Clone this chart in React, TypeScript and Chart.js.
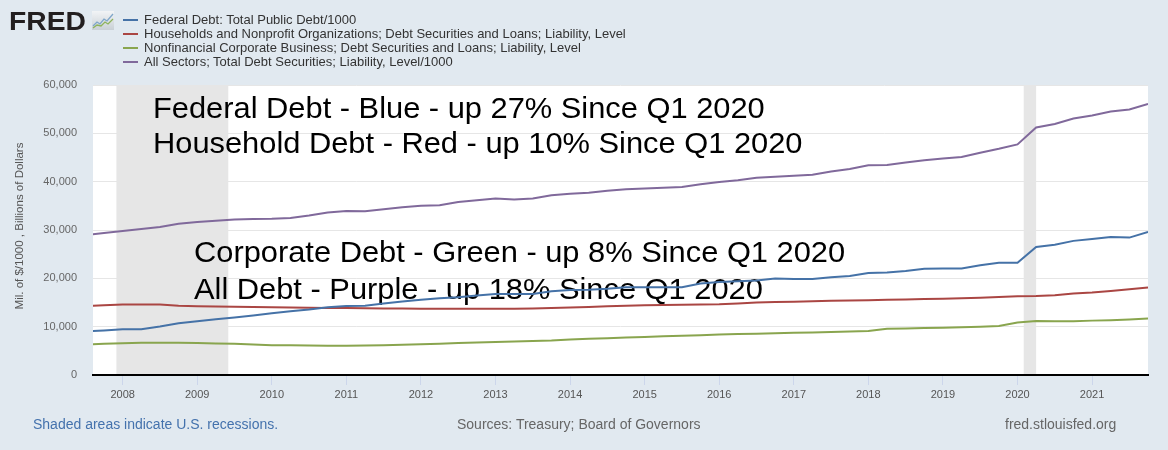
import React, { useEffect, useRef } from 'react';
import { Chart, registerables } from 'chart.js';

Chart.register(...registerables);

// ---------- data ----------
const QUARTERS = [
  '2007-07-01', '2007-10-01',
  '2008-01-01', '2008-04-01', '2008-07-01', '2008-10-01',
  '2009-01-01', '2009-04-01', '2009-07-01', '2009-10-01',
  '2010-01-01', '2010-04-01', '2010-07-01', '2010-10-01',
  '2011-01-01', '2011-04-01', '2011-07-01', '2011-10-01',
  '2012-01-01', '2012-04-01', '2012-07-01', '2012-10-01',
  '2013-01-01', '2013-04-01', '2013-07-01', '2013-10-01',
  '2014-01-01', '2014-04-01', '2014-07-01', '2014-10-01',
  '2015-01-01', '2015-04-01', '2015-07-01', '2015-10-01',
  '2016-01-01', '2016-04-01', '2016-07-01', '2016-10-01',
  '2017-01-01', '2017-04-01', '2017-07-01', '2017-10-01',
  '2018-01-01', '2018-04-01', '2018-07-01', '2018-10-01',
  '2019-01-01', '2019-04-01', '2019-07-01', '2019-10-01',
  '2020-01-01', '2020-04-01', '2020-07-01', '2020-10-01',
  '2021-01-01', '2021-04-01', '2021-07-01', '2021-10-01',
];

const FEDERAL_DEBT = [
  9010, 9230,
  9440, 9490, 10020, 10700,
  11130, 11550, 11910, 12310,
  12770, 13200, 13560, 14030,
  14270, 14340, 14790, 15220,
  15580, 15860, 16070, 16430,
  16770, 16740, 16740, 17350,
  17600, 17630, 17820, 18140,
  18150, 18150, 18150, 18920,
  19260, 19380, 19570, 19980,
  19850, 19840, 20240, 20490,
  21090, 21200, 21520, 21970,
  22030, 22020, 22720, 23200,
  23220, 26480, 26950, 27750,
  28130, 28530, 28430, 29620,
];

const HOUSEHOLD_DEBT = [
  14250, 14450,
  14600, 14580, 14600, 14350,
  14220, 14150, 14100, 14050,
  14000, 13950, 13900, 13880,
  13850, 13800, 13780, 13760,
  13720, 13700, 13690, 13720,
  13700, 13720, 13760, 13850,
  13950, 14050, 14200, 14350,
  14420, 14480, 14540, 14600,
  14650, 14800, 14980, 15080,
  15150, 15270, 15350, 15420,
  15480, 15550, 15620, 15700,
  15800, 15900, 16000, 16150,
  16300, 16320, 16500, 16850,
  17050, 17400, 17750, 18100,
];

const CORPORATE_DEBT = [
  6300, 6450,
  6550, 6650, 6680, 6660,
  6620, 6540, 6450, 6300,
  6180, 6150, 6100, 6070,
  6050, 6100, 6180, 6280,
  6380, 6480, 6600, 6720,
  6850, 6950, 7050, 7150,
  7350, 7480, 7620, 7760,
  7880, 8000, 8120, 8240,
  8380, 8480, 8560, 8640,
  8720, 8800, 8880, 8980,
  9080, 9550, 9620, 9700,
  9780, 9880, 9980, 10150,
  10850, 11150, 11100, 11120,
  11250, 11350, 11500, 11700,
];

const ALL_SECTORS_DEBT = [
  28950, 29400,
  29800, 30200, 30640, 31300,
  31650, 31900, 32150, 32300,
  32350, 32500, 33000, 33600,
  33950, 33900, 34300, 34700,
  35000, 35100, 35800, 36150,
  36500, 36300, 36500, 37200,
  37500, 37700, 38100, 38450,
  38600, 38750, 38900, 39450,
  39950, 40300, 40800, 41000,
  41200, 41450, 42100, 42600,
  43400, 43450, 43950, 44450,
  44800, 45100, 46000, 46800,
  47700, 51200, 51950, 53050,
  53700, 54500, 54950, 56100,
];

const SERIES_LABELS = [
  'Federal Debt: Total Public Debt/1000',
  'Households and Nonprofit Organizations; Debt Securities and Loans; Liability, Level',
  'Nonfinancial Corporate Business; Debt Securities and Loans; Liability, Level',
  'All Sectors; Total Debt Securities; Liability, Level/1000',
];
const SERIES_COLORS = ['#4572a7', '#aa4643', '#89a54e', '#80699b'];

const YEAR_TICKS = [2008, 2009, 2010, 2011, 2012, 2013, 2014, 2015, 2016, 2017, 2018, 2019, 2020, 2021];
const X_START_DATE = '2007-08-08';
const X_END_DATE = '2021-10-01';
const Y_MIN = 0;
const Y_MAX = 60000;
const Y_STEP = 10000;

const RECESSIONS = [
  ['2007-12-01', '2009-06-01'],
  ['2020-02-01', '2020-04-01'],
];

const NOTES = [
  'Federal Debt - Blue - up 27% Since Q1 2020',
  'Household Debt - Red - up 10% Since Q1 2020',
  'Corporate Debt - Green - up 8% Since Q1 2020',
  'All Debt - Purple - up 18% Since Q1 2020',
];

const Y_TITLE = 'Mil. of $/1000 , Billions of Dollars';

// ---------- helpers ----------
const FONT = '"Liberation Sans", Arial, Helvetica, sans-serif';

function toYear(d: string): number {
  const [y, m, dd] = d.split('-').map(Number);
  return y + (m - 1) / 12 + (dd - 1) / 365;
}

const NOTE_LAYOUT = [
  { x: 153, y: 118 },
  { x: 153, y: 153 },
  { x: 194, y: 262 },
  { x: 194, y: 299 },
];

const fredPlugin = {
  id: 'fredDecor',
  beforeDraw(chart: any) {
    const { ctx, chartArea } = chart;
    const { left, top, right, bottom } = chartArea;
    ctx.save();
    ctx.fillStyle = '#ffffff';
    ctx.fillRect(left, top, right - left, bottom - top);
    ctx.restore();
  },
  beforeDatasetsDraw(chart: any) {
    const { ctx, chartArea, scales } = chart;
    const { top, bottom, left, right } = chartArea;
    ctx.save();
    ctx.beginPath();
    ctx.rect(left, top, right - left, bottom - top);
    ctx.clip();
    ctx.fillStyle = '#e6e6e6';
    RECESSIONS.forEach(([a, b]) => {
      const x1 = scales.x.getPixelForValue(toYear(a));
      const x2 = scales.x.getPixelForValue(toYear(b));
      ctx.fillRect(x1, top, x2 - x1, bottom - top - 1);
    });
    ctx.restore();

    NOTES.forEach((t, i) => {
      ctx.save();
      ctx.fillStyle = '#000000';
      ctx.font = `29px ${FONT}`;
      ctx.textBaseline = 'alphabetic';
      ctx.textAlign = 'left';
      ctx.translate(NOTE_LAYOUT[i].x, NOTE_LAYOUT[i].y);
      ctx.scale(1.063, 1);
      ctx.fillText(t, 0, 0);
      ctx.restore();
    });
  },
  afterDraw(chart: any) {
    const { ctx } = chart;
    ctx.save();
    ctx.translate(20, 226);
    ctx.rotate(-Math.PI / 2);
    ctx.fillStyle = '#555555';
    ctx.font = `11.5px ${FONT}`;
    ctx.textAlign = 'center';
    ctx.textBaseline = 'middle';
    ctx.fillText(Y_TITLE, 0, 0);
    ctx.restore();
  },
};

function FredIcon() {
  return (
    <svg width={22} height={19} viewBox="0 0 22 19" style={{ position: 'absolute', left: 92, top: 11 }}>
      <defs>
        <linearGradient id="fg" x1="0" y1="0" x2="0" y2="1">
          <stop offset="0" stopColor="#f2f4f6" />
          <stop offset="1" stopColor="#c9d0d6" />
        </linearGradient>
      </defs>
      <rect x={0} y={0} width={22} height={19} fill="url(#fg)" />
      <polyline points="1,15 5,11 8,13 12,8 15,10 21,3" fill="none" stroke="#7fa6c9" strokeWidth={1.3} />
      <polyline points="1,17 5,14 9,15 13,11 16,13 21,8" fill="none" stroke="#8db35c" strokeWidth={1.3} />
    </svg>
  );
}

export default function App() {
  const canvasRef = useRef<HTMLCanvasElement | null>(null);

  useEffect(() => {
    if (!canvasRef.current) return;
    const xs = QUARTERS.map(toYear);
    const series = [FEDERAL_DEBT, HOUSEHOLD_DEBT, CORPORATE_DEBT, ALL_SECTORS_DEBT];
    const chart = new Chart(canvasRef.current, {
      type: 'line',
      data: {
        datasets: series.map((vals, i) => ({
          label: SERIES_LABELS[i],
          data: vals.map((v, j) => ({ x: xs[j], y: v })),
          borderColor: SERIES_COLORS[i],
          backgroundColor: SERIES_COLORS[i],
          borderWidth: 2,
          pointRadius: 0,
          tension: 0,
          fill: false,
          clip: 0,
        })),
      },
      options: {
        animation: false,
        responsive: false,
        maintainAspectRatio: false,
        events: [],
        layout: { padding: { top: 85, right: 20, left: 0, bottom: 0 } },
        plugins: {
          legend: { display: false },
          tooltip: { enabled: false },
        },
        scales: {
          x: {
            type: 'linear',
            min: toYear(X_START_DATE),
            max: toYear(X_END_DATE),
            afterBuildTicks: (s: any) => {
              s.ticks = YEAR_TICKS.map((v) => ({ value: v }));
            },
            afterFit: (s: any) => {
              s.height = 75;
            },
            ticks: {
              callback: (v: any) => String(v),
              autoSkip: false,
              maxRotation: 0,
              minRotation: 0,
              padding: 3,
              color: '#555555',
              font: { family: FONT, size: 11 },
            },
            grid: {
              drawOnChartArea: false,
              drawTicks: true,
              tickLength: 10,
              color: '#ccd6eb',
            },
            border: { display: true, color: '#000000', width: 2 },
          },
          y: {
            min: Y_MIN,
            max: Y_MAX,
            afterFit: (s: any) => {
              s.width = 93;
            },
            ticks: {
              stepSize: Y_STEP,
              padding: 16,
              color: '#666666',
              font: { family: FONT, size: 11 },
            },
            grid: { color: '#e6e6e6', drawTicks: false },
            border: { display: false },
          },
        },
      },
      plugins: [fredPlugin],
    } as any);
    return () => chart.destroy();
  }, []);

  return (
    <div
      style={{
        position: 'absolute',
        left: 0,
        top: 0,
        width: 1168,
        height: 450,
        background: '#e1e9f0',
        overflow: 'hidden',
        fontFamily: FONT,
      }}
    >
      <canvas ref={canvasRef} width={1168} height={450} style={{ position: 'absolute', left: 0, top: 0 }} />
      <div
        style={{
          position: 'absolute',
          left: 9,
          top: 6,
          fontSize: 25,
          lineHeight: '30px',
          fontWeight: 700,
          color: '#231f20',
          transform: 'scaleX(1.13)',
          transformOrigin: 'left top',
          whiteSpace: 'nowrap',
        }}
      >
        FRED
      </div>
      <FredIcon />
      {SERIES_LABELS.map((label, i) => (
        <React.Fragment key={label}>
          <div
            style={{
              position: 'absolute',
              left: 123,
              top: 18.5 + 14 * i,
              width: 15,
              height: 2,
              background: SERIES_COLORS[i],
            }}
          />
          <div
            style={{
              position: 'absolute',
              left: 144,
              top: 12.5 + 14 * i,
              fontSize: 13,
              lineHeight: '14px',
              color: '#333333',
              whiteSpace: 'nowrap',
            }}
          >
            {label}
          </div>
        </React.Fragment>
      ))}
      <div style={{ position: 'absolute', left: 33, top: 416, fontSize: 14, lineHeight: '16px', color: '#4472ad', whiteSpace: 'nowrap' }}>
        Shaded areas indicate U.S. recessions.
      </div>
      <div style={{ position: 'absolute', left: 457, top: 416, fontSize: 14, lineHeight: '16px', color: '#666666', whiteSpace: 'nowrap' }}>
        Sources: Treasury; Board of Governors
      </div>
      <div style={{ position: 'absolute', left: 1005, top: 416, fontSize: 14, lineHeight: '16px', color: '#666666', whiteSpace: 'nowrap' }}>
        fred.stlouisfed.org
      </div>
    </div>
  );
}
